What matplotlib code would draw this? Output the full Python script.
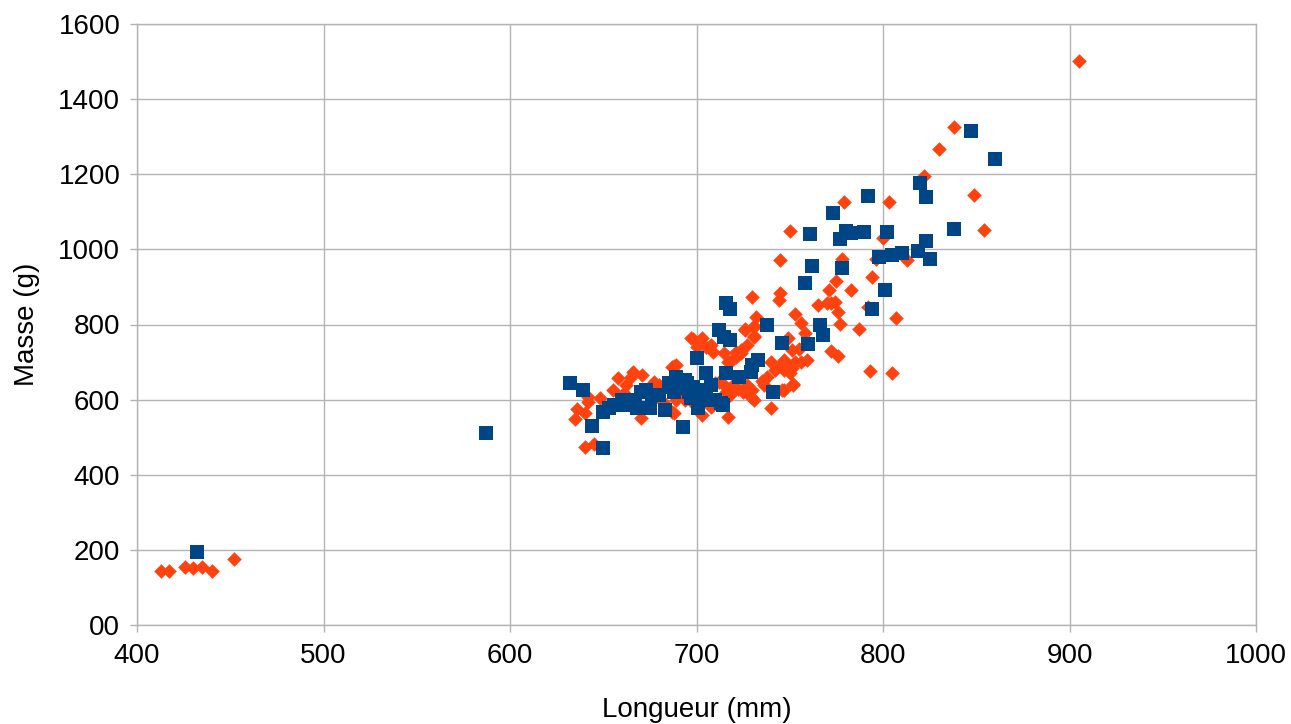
import matplotlib
matplotlib.use("Agg")
import matplotlib.pyplot as plt

plt.rcParams['font.family'] = ['Liberation Sans', 'DejaVu Sans']

# Série bleue (carrés) : longueur (mm), masse (g)
bleu_x = [432, 587, 632, 639, 644, 650, 650, 653, 656, 660, 662, 667, 668, 670, 673,
          676, 675, 680, 683, 685, 689, 690, 689, 694, 688, 693, 698, 696, 702, 705,
          707, 713, 714, 701, 693, 700, 705, 716, 723, 729, 730, 733, 738, 741, 746,
          760, 766, 768, 712, 715, 718, 716, 718, 758, 761, 762, 773, 777, 778, 780,
          783, 790, 792, 794, 798, 801, 802, 805, 810, 819, 820, 823, 823, 825, 838,
          847, 860, 686, 697, 700, 708, 695, 710]
bleu_y = [195, 511, 645, 626, 531, 472, 568, 577, 586, 599, 586, 599, 577, 621, 626,
          612, 577, 612, 572, 644, 657, 630, 661, 652, 621, 639, 634, 621, 625, 617,
          599, 590, 586, 577, 526, 710, 670, 670, 661, 674, 692, 705, 799, 621, 752,
          747, 800, 771, 786, 768, 758, 858, 840, 911, 1041, 956, 1096, 1027, 951, 1050,
          1043, 1045, 1141, 840, 981, 891, 1045, 984, 991, 996, 1176, 1140, 1021, 975, 1055,
          1316, 1240, 634, 605, 612, 640, 645, 600]

# Série orange (losanges)
orange_x = [413, 417, 426, 430, 435, 440, 452, 636, 640, 635, 642, 642, 640, 645, 655,
            658, 665, 666, 671, 670, 661, 677, 688, 688, 687, 689, 697, 703, 708, 705,
            700, 698, 709, 715, 721, 724, 719, 721, 717, 710, 715, 719, 727, 730, 725,
            729, 716, 718, 731, 740, 717, 703, 687, 747, 689, 740, 747, 747, 726, 731,
            731, 727, 724, 732, 731, 726, 731, 753, 756, 777, 787, 758, 749, 772, 776,
            793, 805, 752, 746, 751, 755, 756, 759, 751, 750, 752, 776, 765, 772, 774,
            770, 792, 807, 730, 745, 744, 771, 783, 775, 794, 745, 778, 796, 813, 750,
            779, 803, 800, 822, 830, 838, 849, 854, 905, 680, 685, 692, 682, 676, 698,
            712, 722, 735, 738, 742, 748, 753, 708, 662, 648, 694, 736, 744]
orange_y = [145, 145, 154, 151, 155, 145, 176, 575, 564, 548, 608, 594, 473, 482, 626,
            657, 661, 674, 666, 550, 617, 648, 690, 565, 688, 692, 763, 763, 745, 741,
            741, 761, 728, 723, 728, 723, 705, 714, 701, 643, 639, 635, 639, 626, 621,
            608, 621, 612, 599, 577, 555, 559, 568, 626, 599, 701, 679, 706, 786, 795,
            770, 745, 732, 821, 794, 787, 768, 827, 803, 801, 787, 777, 763, 729, 717,
            676, 672, 642, 626, 732, 734, 701, 706, 683, 670, 639, 834, 852, 856, 861,
            856, 846, 818, 872, 883, 866, 892, 892, 917, 926, 972, 974, 974, 972, 1050,
            1126, 1126, 1030, 1195, 1266, 1326, 1146, 1051, 1501, 640, 630, 610, 595, 620, 590,
            648, 628, 650, 660, 680, 690, 700, 580, 640, 605, 600, 640, 690]

grid_col = '#b3b3b3'

fig = plt.figure(figsize=(12.91, 7.24), dpi=100)
ax = fig.add_axes([137 / 1291, 1 - 625 / 724, 1119 / 1291, 601 / 724])

ax.scatter(orange_x, orange_y, marker='D', s=55, color='#ff420e', linewidths=0, zorder=3)
ax.scatter(bleu_x, bleu_y, marker='s', s=110, color='#004586', linewidths=0, zorder=4)

ax.set_xlim(400, 1000)
ax.set_ylim(0, 1600)
ax.set_xticks(range(400, 1001, 100))
ax.set_yticks(range(0, 1601, 200))
ax.set_yticklabels(['00'] + [str(v) for v in range(200, 1601, 200)])

ax.grid(True, color=grid_col, linewidth=1)
ax.set_axisbelow(True)
for sp in ax.spines.values():
    sp.set_color(grid_col)
    sp.set_linewidth(1)
ax.tick_params(axis='both', colors=grid_col, length=5, width=1, labelsize=20,
               labelcolor='black')
ax.tick_params(axis='x', pad=8)
ax.tick_params(axis='y', pad=7)

ax.set_xlabel('Longueur (mm)', fontsize=20, labelpad=20)
ax.set_ylabel('Masse (g)', fontsize=20, labelpad=13)

fig.savefig('out.png', dpi=100)
